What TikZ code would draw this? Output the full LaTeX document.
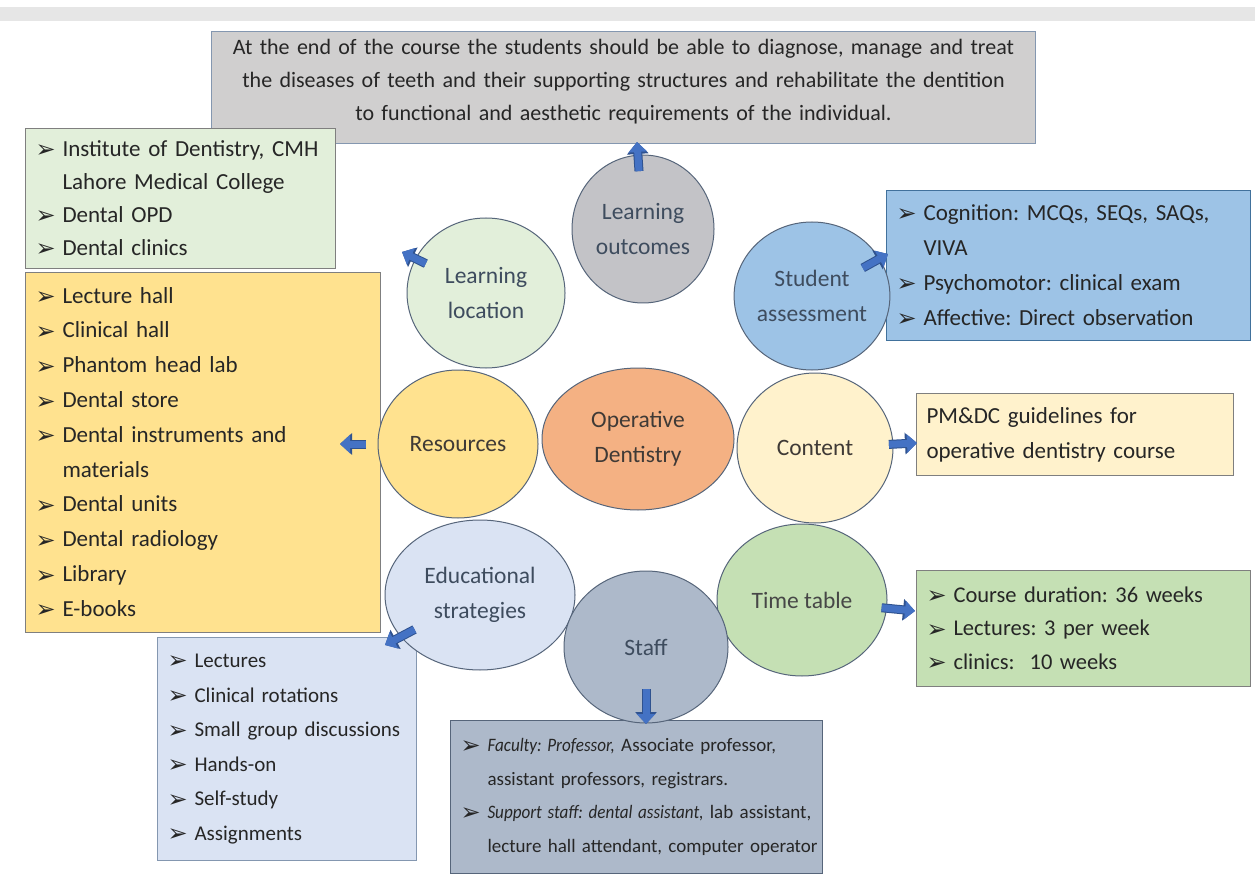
\documentclass[tikz,border=0pt]{standalone}
\usepackage{graphicx}
\usepackage{fontspec}
\setmainfont{Carlito}
\newfontfamily\dingfont{DejaVu Sans}
\usetikzlibrary{arrows.meta,shapes.geometric}

\definecolor{bandgray}{HTML}{E6E6E6}
\definecolor{txtdark}{HTML}{262626}
\definecolor{ovalline}{HTML}{56657A}
\definecolor{ovaltxt}{HTML}{3E4C5E}
\definecolor{warmtxt}{HTML}{3F3A36}
\definecolor{arrowblue}{HTML}{4472C4}
\definecolor{arrowdark}{HTML}{2F528F}
\definecolor{goalfill}{HTML}{D0CFCF}
\definecolor{goalline}{HTML}{8497B0}
\definecolor{outfill}{HTML}{C3C3C7}
\definecolor{locfill}{HTML}{E2EFDA}
\definecolor{resfill}{HTML}{FFE28F}
\definecolor{opfill}{HTML}{F4B183}
\definecolor{confill}{HTML}{FFF2CC}
\definecolor{assfill}{HTML}{9DC3E6}
\definecolor{assline}{HTML}{41719C}
\definecolor{timefill}{HTML}{C5E0B4}
\definecolor{edufill}{HTML}{DAE3F3}
\definecolor{stafffill}{HTML}{ADB9CA}
\definecolor{boxline}{HTML}{7F7F7F}

% list lines: \itm starts an item, \cnt continues it
\newcommand{\bul}{\makebox[27pt][l]{\dingfont\fontsize{24}{24}\selectfont\raisebox{-1.5pt}{➢}}}
\newcommand{\itm}[1]{\noindent\bul\mbox{#1}\par}
\newcommand{\cnt}[1]{\noindent\hspace*{27pt}\mbox{#1}\par}
\newcommand{\nit}[1]{\scalebox{0.9}[1]{\textit{#1}}}

\tikzset{
  listbox/.style={draw=boxline, line width=1pt, anchor=north west, inner xsep=10pt,
    inner ysep=0pt, text=txtdark, font=\fontsize{23}{34.8}\selectfont},
  oval/.style={ellipse, draw=ovalline, line width=1pt, inner sep=0pt, outer sep=0pt,
    align=center, text=ovaltxt, font=\fontsize{23.5}{35}\selectfont},
  fatarrow/.style={draw=arrowblue, line width=7pt, -{Triangle[length=10pt,width=18pt]},
    preaction={draw=arrowdark, line width=9pt, -{Triangle[length=12pt,width=21pt]}}}
}

\begin{document}
\frenchspacing
\begin{tikzpicture}[x=1pt,y=-1pt]

\useasboundingbox (0,0) rectangle (1255,874);
\fill[white] (0,0) rectangle (1255,874);
\fill[bandgray] (0,7) rectangle (1255,21);

% boxes
\node[listbox, fill=goalfill, draw=goalline, align=center, text width=804pt,
  minimum height=112pt, font=\fontsize{22}{33}\selectfont] (goal) at (211,31)
  {At the end of the course the students should be able to diagnose, manage and treat\\
   the diseases of teeth and their supporting structures and rehabilitate the dentition\\
   to functional and aesthetic requirements of the individual.\\[-17pt]\mbox{}};

\node[listbox, fill=locfill, text width=290pt, minimum height=140pt, font=\fontsize{23}{33}\selectfont] (locbox) at (25,128)
  {\itm{Institute of Dentistry, CMH}\cnt{Lahore Medical College}\itm{Dental OPD}\itm{Dental clinics}};

\node[listbox, fill=resfill, text width=335pt, minimum height=360pt] (resbox) at (25,272)
  {\itm{Lecture hall}\itm{Clinical hall}\itm{Phantom head lab}\itm{Dental store}%
   \itm{Dental instruments and}\cnt{materials}\itm{Dental units}\itm{Dental radiology}\itm{Library}\itm{E-books}};

\node[listbox, fill=edufill, draw=goalline, text width=239pt, minimum height=223pt, font=\fontsize{21}{34.6}\selectfont] (edubox) at (157,637)
  {\itm{Lectures}\itm{Clinical rotations}\itm{Small group discussions}\itm{Hands-on}%
   \itm{Self-study}\itm{Assignments}};

\node[listbox, fill=stafffill, draw=ovalline, text width=352pt, minimum height=153pt, font=\fontsize{19}{33.7}\selectfont] (staffbox) at (450,720)
  {\itm{\nit{Faculty: Professor,} Associate professor,}\cnt{assistant professors, registrars.}%
   \itm{\nit{Support staff: dental assistant,} lab assistant,}\cnt{lecture hall attendant, computer operator}};

\node[listbox, fill=assfill, draw=assline, text width=344pt, minimum height=150pt, font=\fontsize{23}{35}\selectfont] (assbox) at (886,190)
  {\itm{Cognition: MCQs, SEQs, SAQs,}\cnt{VIVA}\itm{Psychomotor: clinical exam}\itm{Affective: Direct observation}};

\node[listbox, fill=confill, text width=297pt, minimum height=82pt, font=\fontsize{23}{35}\selectfont] (conbox) at (916,393)
  {\noindent PM\&DC guidelines for\par\noindent operative dentistry course\par};

\node[listbox, fill=timefill, text width=314pt, minimum height=116pt, font=\fontsize{22.5}{33.5}\selectfont] (timebox) at (916,570)
  {\itm{Course duration: 36 weeks}\itm{Lectures: 3 per week}\itm{clinics:\ \ 10 weeks}};

% ellipses
\node[oval, fill=locfill, minimum width=158pt, minimum height=150pt] (location) at (486,293) {Learning\\location};
\node[oval, fill=outfill, minimum width=142pt, minimum height=148pt] (outcomes) at (643,229) {Learning\\outcomes};
\node[oval, fill=assfill, minimum width=154pt, minimum height=148pt] (assess) at (812,296) {Student\\assessment};
\node[oval, fill=resfill, minimum width=160pt, minimum height=148pt, text=warmtxt] (resources) at (458,444) {Resources};
\node[oval, fill=opfill, minimum width=192pt, minimum height=142pt, text=warmtxt] (operative) at (638,439) {Operative\\Dentistry};
\node[oval, fill=confill, minimum width=156pt, minimum height=150pt, text=warmtxt] (content) at (815,448) {Content};
\node[oval, fill=edufill, minimum width=190pt, minimum height=150pt] (edu) at (480,595) {Educational\\strategies};
\node[oval, fill=timefill, minimum width=170pt, minimum height=152pt, text=txtdark!85] (time) at (802,600) {Time table};
\node[oval, fill=stafffill, minimum width=164pt, minimum height=152pt] (staff) at (646,647) {Staff};

% arrow tips
\coordinate (outtip) at (637,142);
\coordinate (loctip) at (402,252);
\coordinate (asstip) at (888,254);
\coordinate (restip) at (340,444);
\coordinate (contip) at (917,443);
\coordinate (timetip) at (915,611);
\coordinate (edutip) at (385,645);
\coordinate (stafftip) at (646,724);

\draw[fatarrow, shorten <=58pt] (outcomes.center) -- (outtip);
\draw[fatarrow, shorten <=67pt] (location.center) -- (loctip);
\draw[fatarrow, shorten <=58pt] (assess.center) -- (asstip);
\draw[fatarrow, shorten <=92pt] (resources.center) -- (restip);
\draw[fatarrow, shorten <=74pt] (content.center) -- (contip);
\draw[fatarrow, shorten <=80pt] (time.center) -- (timetip);
\draw[fatarrow, shorten <=74pt] (edu.center) -- (edutip);
\draw[fatarrow, shorten <=42pt] (staff.center) -- (stafftip);

\end{tikzpicture}
\end{document}
